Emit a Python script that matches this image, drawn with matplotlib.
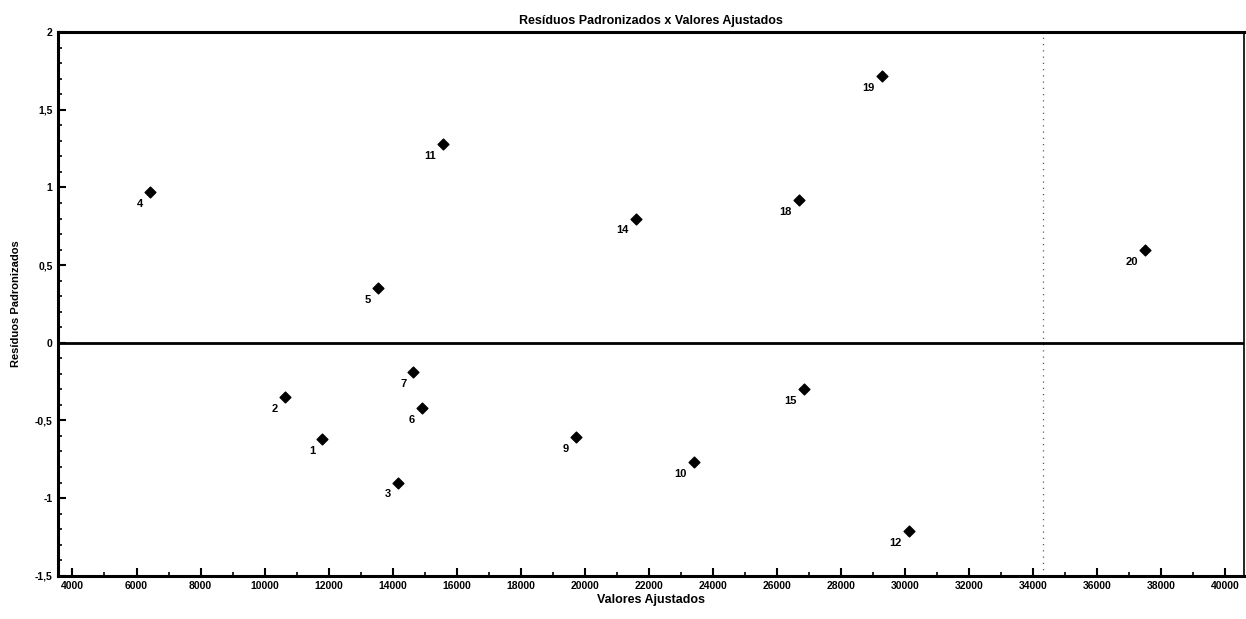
import matplotlib
matplotlib.use("Agg")
import matplotlib.pyplot as plt
from matplotlib.ticker import MultipleLocator, FuncFormatter

# ---------------------------------------------------------------------------
# Data: fitted values vs standardized residuals, labelled by observation
# ---------------------------------------------------------------------------

obs_ids = [1, 2, 3, 4, 5, 6, 7, 9, 10, 11, 12, 14, 15, 18, 19, 20]
fitted = [11800, 10640, 14160, 6420, 13530, 14910, 14650, 19720,
          23400, 15570, 30130, 21600, 26840, 26680, 29280, 37510]
std_resid = [-0.62, -0.35, -0.90, 0.97, 0.35, -0.42, -0.19, -0.61,
             -0.77, 1.28, -1.21, 0.80, -0.30, 0.92, 1.72, 0.60]

x_ticks = list(range(4000, 40001, 2000))
y_ticks = [-1.5, -1.0, -0.5, 0.0, 0.5, 1.0, 1.5, 2.0]

FONT = ["Liberation Sans", "DejaVu Sans"]

fig = plt.figure(figsize=(12.46, 6.19), dpi=100)
ax = fig.add_axes([0.0466, 0.070, 0.952, 0.878])

ax.scatter(fitted, std_resid, marker="D", s=30, color="black", zorder=3)
for i, xv, yv in zip(obs_ids, fitted, std_resid):
    ax.annotate(str(i), (xv, yv), xytext=(-5, -5), textcoords="offset points",
                ha="right", va="top", fontsize=8, fontweight="bold",
                family=FONT)

ax.axhline(0, color="black", lw=2, zorder=2)
ax.axvline(34300, color="0.35", lw=0.9, ls=(0, (1, 4)), zorder=1)

ax.set_xlim(3550, 40600)
ax.set_ylim(-1.5, 2.0)
ax.set_xticks(x_ticks)
ax.set_yticks(y_ticks)
ax.xaxis.set_minor_locator(MultipleLocator(1000))
ax.yaxis.set_minor_locator(MultipleLocator(0.1))


def y_fmt(v, _pos):
    s = f"{v:g}"
    return s.replace(".", ",")


ax.yaxis.set_major_formatter(FuncFormatter(y_fmt))
ax.tick_params(which="major", direction="in", length=6, width=1.5,
               labelsize=7.5, pad=4)
ax.tick_params(which="minor", direction="in", length=3, width=1.2)
for lab in ax.get_xticklabels() + ax.get_yticklabels():
    lab.set_fontweight("bold")
    lab.set_family(FONT)

for side in ["left", "bottom", "top"]:
    ax.spines[side].set_linewidth(2.2)
ax.spines["right"].set_linewidth(1.2)

ax.set_title("Resíduos Padronizados x Valores Ajustados", fontsize=9,
             fontweight="bold", family=FONT, pad=6)
ax.set_xlabel("Valores Ajustados", fontsize=9, fontweight="bold",
              family=FONT, labelpad=2)
ax.set_ylabel("Resíduos Padronizados", fontsize=8, fontweight="bold",
              family=FONT, labelpad=10)

fig.savefig("out.png", dpi=100)
